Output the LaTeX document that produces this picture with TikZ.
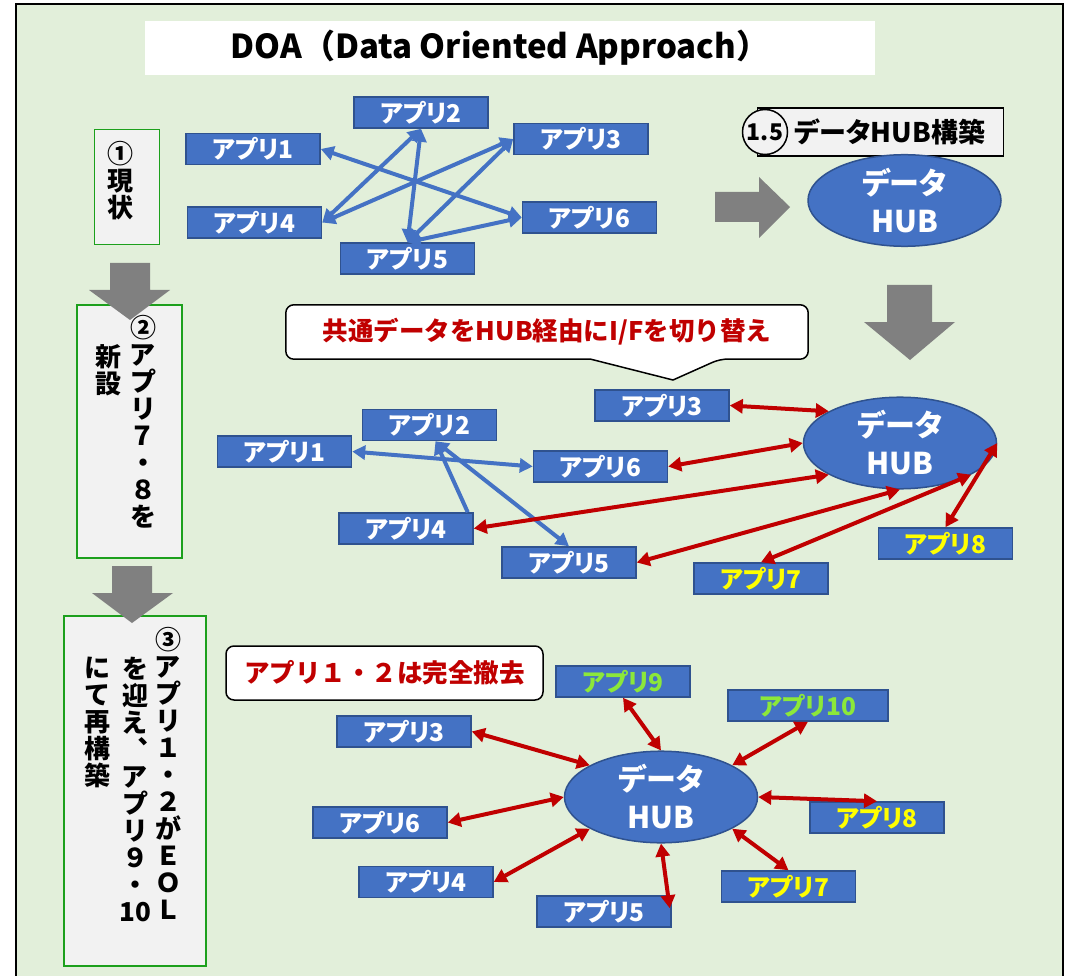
\documentclass[tikz,border=0pt]{standalone}
\usepackage{fontspec}
\setmainfont{Noto Sans CJK JP}[RawFeature=+palt]
\newfontfamily\widejp{Noto Sans CJK JP}
\usetikzlibrary{shapes.geometric,arrows.meta}
\definecolor{bggreen}{HTML}{E2EFDA}
\definecolor{appblue}{HTML}{4472C4}
\definecolor{appline}{HTML}{2F528F}
\definecolor{linkred}{HTML}{C00000}
\definecolor{arrowgray}{HTML}{808080}
\definecolor{stepgray}{HTML}{F2F2F2}
\definecolor{stepgreen}{HTML}{1CA01C}
\definecolor{newyellow}{HTML}{FFFF00}
\definecolor{newgreen}{HTML}{8CE83A}
\newcommand{\appfont}{\bfseries\fontsize{24.5}{26}\selectfont}
\newcommand{\hubfont}{\bfseries\fontsize{30}{38}\selectfont}
\newcommand{\tatefont}{\bfseries\fontsize{26}{27}\selectfont}
\newcommand{\notefont}{\widejp\bfseries\fontsize{25.5}{28}\selectfont}
\newcommand{\titlefont}{\widejp\bfseries\fontsize{33}{34}\selectfont}

\begin{document}
\begin{tikzpicture}[x=1pt,y=-1pt,
    app/.style={draw=appline, fill=appblue, line width=1.5pt, minimum width=134pt,
      minimum height=31pt, inner sep=0pt, text=white, font=\appfont},
    hub/.style={ellipse, draw=appline, fill=appblue, line width=1.5pt, minimum width=193pt,
      minimum height=86pt, inner sep=0pt, text=white, align=center, font=\hubfont},
    stepbox/.style={draw=stepgreen, fill=stepgray, line width=1.5pt, inner sep=0pt},
    tate/.style={align=center, inner sep=0pt, anchor=north, font=\tatefont},
    notetext/.style={text=linkred, font=\notefont, inner sep=0pt},
    bluelink/.style={draw=appblue, line width=4pt,
      {Triangle[length=13pt,width=14pt]}-{Triangle[length=13pt,width=14pt]}},
    bluehead/.style={draw=appblue, line width=4pt, -{Triangle[length=13pt,width=14pt]}},
    redlink/.style={draw=linkred, line width=4pt,
      {Triangle[length=13pt,width=14pt]}-{Triangle[length=13pt,width=14pt]}}]
  \useasboundingbox (0,0) rectangle (1068,976);
  \fill[white] (0,0) rectangle (1068,976);
  \draw[line width=2pt, fill=bggreen] (16,4) rectangle (1063,1000);

  % title
  \node[fill=white, minimum width=730pt, minimum height=54pt, inner sep=0pt] (titlebox) at (510,48) {};
  \node[font=\titlefont, inner sep=0pt] (title) at (500,48) {DOA（Data Oriented Approach）};

  % steps on the left
  \node[stepbox, minimum width=65pt, minimum height=115pt] (step1) at (127,187) {};
  \node[stepbox, minimum width=105pt, minimum height=253pt] (step2) at (129.5,431.5) {};
  \node[stepbox, minimum width=142pt, minimum height=350pt] (step3) at (135,791) {};
  \node[tate] (s1col) at (120,141) {①\\現\\状};
  \node[tate] (s2colA) at (143,315) {②\\ア\\プ\\リ\\７\\・\\８\\を};
  \node[tate] (s2colB) at (108,344) {新\\設};
  \node[tate] (s3colA) at (168,627) {③\\ア\\プ\\リ\\１\\・\\２\\が\\Ｅ\\Ｏ\\Ｌ};
  \node[tate] (s3colB) at (135,657) {を\\迎\\え\\︑\\ア\\プ\\リ\\９\\・\\10};
  \node[tate] (s3colC) at (97,657) {に\\て\\再\\構\\築};

  % big gray arrows
  \fill[arrowgray] (110,263) -- (150,263) -- (150,290) -- (170,290) -- (130,320) -- (89,290) -- (110,290) -- cycle;
  \fill[arrowgray] (112,566) -- (152,566) -- (152,593) -- (173,593) -- (132,623) -- (92,593) -- (112,593) -- cycle;
  \fill[arrowgray] (715,192) -- (759,192) -- (759,177) -- (790,207) -- (759,238) -- (759,222) -- (715,222) -- cycle;
  \fill[arrowgray] (887,285) -- (932,285) -- (932,322) -- (955,322) -- (910,360) -- (864,322) -- (887,322) -- cycle;

  % (1) current state
  \node[app] (cur1) at (253,149) {アプリ1};
  \node[app] (cur2) at (421,112.5) {アプリ2};
  \node[app] (cur3) at (581,139) {アプリ3};
  \node[app] (cur4) at (254.5,222.5) {アプリ4};
  \node[app] (cur5) at (407.5,258.5) {アプリ5};
  \node[app] (cur6) at (589.5,217.5) {アプリ6};
  \draw[bluelink] (cur1.east) -- (cur6.west);
  \draw[bluelink] (cur4.east) -- (cur2.south);
  \draw[bluelink] (cur4.east) -- (cur3.west);
  \draw[bluelink] (cur2.south) -- (cur5.north);
  \draw[bluelink] (cur5.north) -- (cur3.west);
  \draw[bluelink] (cur5.north) -- (cur6.west);

  % (1.5) data hub
  \node[draw=black, fill=stepgray, line width=1.5pt, minimum width=246pt, minimum height=48pt, inner sep=0pt] (hublabel) at (880.5,132) {};
  \node[circle, draw=black, fill=stepgray, line width=1.5pt, minimum size=45pt, inner sep=0pt,
    font=\bfseries\fontsize{23}{23}\selectfont] (numc) at (765,132) {1.5};
  \node[font=\bfseries\fontsize{27}{27}\selectfont, inner sep=0pt] (hubttl) at (890,132) {データHUB構築};
  \node[hub] (hubA) at (904.5,200.5) {データ\\HUB};

  % (2) new apps 7, 8
  \node[minimum width=522pt, minimum height=54pt, inner sep=0pt] (note2) at (547,332) {};
  \draw[line width=1.5pt, fill=white, rounded corners=8pt]
    (590,359) -- (note2.south west) -- (note2.north west) -- (note2.north east) -- (note2.south east)
    -- (720,359) [sharp corners] -- (673,380) -- cycle;
  \node[notetext] (note2txt) at (note2) {共通データをHUB経由にI/Fを切り替え};
  \node[app] (mid1) at (284.5,451.5) {アプリ1};
  \node[app] (mid2) at (429.5,425) {アプリ2};
  \node[app] (mid3) at (662,405.5) {アプリ3};
  \node[app] (mid4) at (406,528.5) {アプリ4};
  \node[app] (mid5) at (569,562.5) {アプリ5};
  \node[app] (mid6) at (600.5,466.5) {アプリ6};
  \node[app, text=newyellow] (mid7) at (761,578.5) {アプリ7};
  \node[app, text=newyellow] (mid8) at (945.5,543.5) {アプリ8};
  \node[hub] (hubB) at (900,443) {データ\\HUB};
  \draw[bluelink] (mid1.east) -- (mid6.west);
  \draw[bluehead] ([xshift=-6pt]mid4.north east) -- ([xshift=6pt]mid2.south);
  \draw[bluelink] ([xshift=6pt]mid2.south) -- (mid5.north);
  \draw[redlink] (mid3.east) -- (hubB.156);
  \draw[redlink] (mid6.east) -- (hubB.west);
  \draw[redlink] (mid4.east) -- (hubB.204);
  \draw[redlink] (mid5.east) -- (hubB.south);
  \draw[redlink] (mid7.north) -- (hubB.-24);
  \draw[redlink] (mid8.north) -- (hubB.east);

  % (3) apps 1, 2 removed
  \node[draw=black, fill=white, line width=1.5pt, rounded corners=8pt, minimum width=317pt,
    minimum height=54pt, notetext] (note3) at (384.5,673) {アプリ１・２は完全撤去};
  \node[app] (fin3) at (404,731.5) {アプリ3};
  \node[app] (fin6) at (380,822.5) {アプリ6};
  \node[app] (fin4) at (426,882) {アプリ4};
  \node[app] (fin5) at (604,911.5) {アプリ5};
  \node[app, text=newyellow] (fin7) at (788.5,886.5) {アプリ7};
  \node[app, text=newyellow] (fin8) at (877,817.5) {アプリ8};
  \node[app, text=newgreen] (fin9) at (623,681.5) {アプリ9};
  \node[app, text=newgreen, minimum width=160pt] (fin10) at (808,705.5) {アプリ10};
  \node[hub] (hubC) at (661,797) {データ\\HUB};
  \draw[redlink] (fin3.east) -- (hubC.156);
  \draw[redlink] (fin6.east) -- (hubC.west);
  \draw[redlink] (fin4.east) -- (hubC.204);
  \draw[redlink] (hubC.south) -- ([shift={(-2,13)}]fin5.north east);
  \draw[redlink] (fin9.south) -- (hubC.north);
  \draw[redlink] (fin10.south) -- (hubC.24);
  \draw[redlink] (hubC.east) -- (fin8.north);
  \draw[redlink] (hubC.-24) -- (fin7.north);
\end{tikzpicture}
\end{document}
